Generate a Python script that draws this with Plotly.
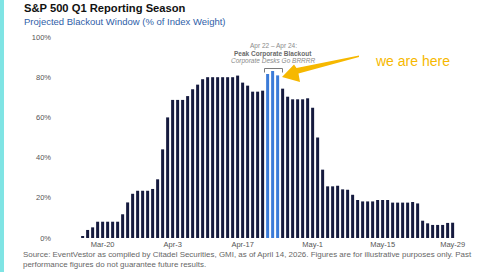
import plotly.graph_objects as go
import pandas as pd

# ---- data ----
dates = pd.date_range("2026-03-16", "2026-05-29", freq="D").strftime("%Y-%m-%d").tolist()
values = [
    1.0, 4.0, 5.3, 8.1, 8.1, 8.1, 8.1, 8.1, 11.8, 17.7,
    22.0, 23.5, 23.5, 23.5, 24.4, 29.2, 44.1, 60.0, 68.7, 68.7,
    68.7, 70.6, 74.0, 76.3, 79.0, 80.0, 80.0, 80.0, 80.0, 80.0,
    80.0, 80.8, 77.3, 75.8, 72.8, 72.8, 73.3, 81.6, 83.1, 80.9,
    74.3, 70.3, 69.0, 69.0, 69.0, 69.5, 64.8, 50.0, 34.0, 25.7,
    25.7, 26.0, 24.2, 24.0, 21.5, 18.9, 18.2, 18.2, 18.2, 18.9,
    18.9, 18.9, 17.6, 17.6, 17.6, 17.6, 17.9, 17.2, 8.6, 7.3,
    6.5, 6.5, 6.5, 7.5, 7.6,
]
highlight_dates = ["2026-04-22", "2026-04-23", "2026-04-24"]
tick_dates = ["2026-03-20", "2026-04-03", "2026-04-17", "2026-05-01", "2026-05-15", "2026-05-29"]
tick_labels = ["Mar-20", "Apr-3", "Apr-17", "May-1", "May-15", "May-29"]
y_ticks = [0, 20, 40, 60, 80, 100]
y_tick_labels = ["0%", "20%", "40%", "60%", "80%", "100%"]

NAVY = "#151a3e"
BLUE = "#3b7bd8"
GOLD = "#f6b800"
FONT = "Liberation Sans, Arial, sans-serif"

W, H = 478, 272
L, R, T, B = 52, 6, 37, 34
PW, PH = W - L - R, H - T - B


def px(x):
    return (x - L) / PW


def py(y):
    return (H - B - y) / PH


colors = [BLUE if d in highlight_dates else NAVY for d in dates]

fig = go.Figure(go.Bar(x=dates, y=values, marker=dict(color=colors, line=dict(width=0)),
                       hoverinfo="skip"))

fig.update_layout(
    width=W, height=H,
    margin=dict(l=L, r=R, t=T, b=B),
    paper_bgcolor="white", plot_bgcolor="white",
    bargap=0.4, showlegend=False,
    font=dict(family=FONT, color="#555555", size=7.5),
    xaxis=dict(
        type="date", range=["2026-03-09 21:00", "2026-06-01 21:00"],
        tickmode="array", tickvals=tick_dates, ticktext=tick_labels,
        showgrid=False, zeroline=False, showline=False, ticks="",
        tickfont=dict(size=7.5, color="#555555"),
    ),
    yaxis=dict(
        range=[0, 100], tickmode="array", tickvals=y_ticks, ticktext=y_tick_labels,
        showgrid=False, zeroline=False, showline=False, ticks="",
        tickfont=dict(size=7.5, color="#555555"),
    ),
)

ann = []
ann.append(dict(text="<b>S&P 500 Q1 Reporting Season</b>", x=px(22), y=py(7.5),
                xanchor="left", yanchor="middle", font=dict(size=11.2, color="#111111")))
ann.append(dict(text="Projected Blackout Window (% of Index Weight)", x=px(22), y=py(21.5),
                xanchor="left", yanchor="middle", font=dict(size=9.5, color="#2f5ea8")))
ann.append(dict(text="Apr 22 – Apr 24:", x=px(273), y=py(46), xanchor="center", yanchor="middle",
                font=dict(size=6.5, color="#8a8a8a")))
ann.append(dict(text="<b>Peak Corporate Blackout</b>", x=px(273), y=py(54), xanchor="center",
                yanchor="middle", font=dict(size=6.5, color="#6a6a6a")))
ann.append(dict(text="<i>Corporate Desks Go BRRRR</i>", x=px(273), y=py(61), xanchor="center",
                yanchor="middle", font=dict(size=6.5, color="#8a8a8a")))
ann.append(dict(text="we are here", x=px(412), y=py(61), xanchor="center", yanchor="middle",
                font=dict(size=14, color=GOLD)))
ann.append(dict(text="Source: EventVestor as compiled by Citadel Securities, GMI, as of April 14, 2026. "
                     "Figures are for illustrative purposes only. Past<br>performance figures do not "
                     "guarantee future results.",
                x=px(20.5), y=py(248), xanchor="left", yanchor="top", align="left",
                font=dict(size=7.95, color="#666666")))
for a in ann:
    a.update(xref="paper", yref="paper", showarrow=False)
fig.update_layout(annotations=ann)

shapes = []
# cyan side bar
shapes.append(dict(type="rect", xref="paper", yref="paper", x0=px(0), x1=px(4), y0=py(272), y1=py(0),
                   fillcolor="#7fe4e4", line=dict(width=0), layer="above"))
# bracket
bx0, bx1, by0, by1 = 264.5, 282.5, 72.5, 68.5
shapes.append(dict(type="path", xref="paper", yref="paper",
                   path=f"M {px(bx0)} {py(by0)} L {px(bx0)} {py(by1)} L {px(bx1)} {py(by1)} L {px(bx1)} {py(by0)}",
                   line=dict(color="#7a7a7a", width=1)))
# arrow (wedge)
pts = [(282, 77), (294, 64.5), (296.5, 68), (359, 55.5), (359, 57), (298.5, 73.5), (300, 82)]
path = "M " + " L ".join(f"{px(a)} {py(b)}" for a, b in pts) + " Z"
shapes.append(dict(type="path", xref="paper", yref="paper", path=path,
                   fillcolor=GOLD, line=dict(width=0)))
fig.update_layout(shapes=shapes)

fig.write_html("out.html")
